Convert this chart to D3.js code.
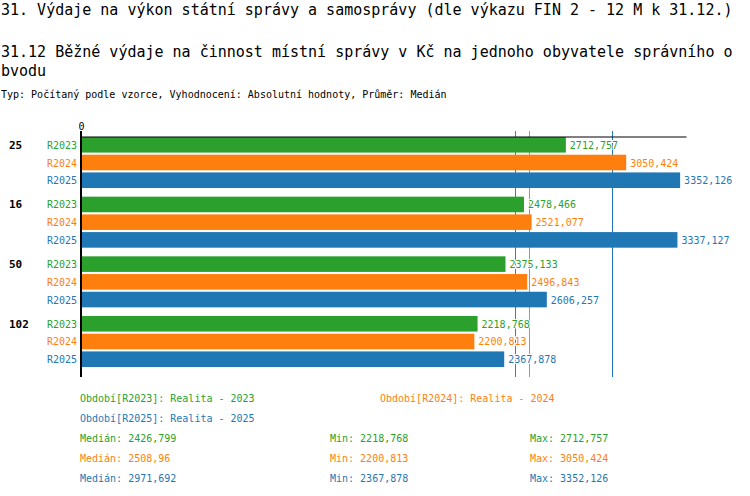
<!DOCTYPE html>
<html>
<head>
<meta charset="utf-8">
<script src="https://cdn.jsdelivr.net/npm/d3@7"></script>
<style>
  body { margin: 0; background: #fff; }
  svg { display: block; font-family: "DejaVu Sans Mono", "Liberation Mono", monospace; }
</style>
</head>
<body>
<div id="chart-area"></div>
<script>
// Chart data
var groups = ["25", "16", "50", "102"];
var series = ["R2023", "R2024", "R2025"];
var periodNames = ["Realita - 2023", "Realita - 2024", "Realita - 2025"];
var values2023 = [2712.757, 2478.466, 2375.133, 2218.768];
var values2024 = [3050.424, 2521.077, 2496.843, 2200.813];
var values2025 = [3352.126, 3337.127, 2606.257, 2367.878];
var medians = [2426.799, 2508.96, 2971.692];
var colors = ["#2ca02c", "#ff7f0e", "#1f77b4"];

var seriesValues = [values2023, values2024, values2025];

var width = 750, height = 496;

var svg = d3.select("#chart-area").append("svg")
    .attr("width", width)
    .attr("height", height);

// decimal comma
var fmt = function (v) { return String(v).replace(".", ","); };

/********************************************/
// Titles
/********************************************/
svg.append("text")
    .attr("x", 1).attr("y", 15)
    .style("font-size", "15px")
    .text("31. Výdaje na výkon státní správy a samosprávy (dle výkazu FIN 2 - 12 M k 31.12.)");

svg.append("text")
    .attr("x", 1).attr("y", 57)
    .style("font-size", "15px")
    .text("31.12 Běžné výdaje na činnost místní správy v Kč na jednoho obyvatele správního o");

svg.append("text")
    .attr("x", 1).attr("y", 76)
    .style("font-size", "15px")
    .text("bvodu");

svg.append("text")
    .attr("x", 1).attr("y", 98)
    .style("font-size", "10px")
    .text("Typ: Počítaný podle vzorce, Vyhodnocení: Absolutní hodnoty, Průměr: Medián");

/********************************************/
// Scales
/********************************************/
var x = d3.scaleLinear().domain([0, 3385]).range([81, 686]);

var y0 = d3.scaleBand()
    .domain(groups)
    .range([137, 367])
    .paddingInner(0.145);

var y1 = d3.scaleBand()
    .domain(series)
    .range([0, y0.bandwidth()])
    .paddingInner(0.12);

// flat rows for bars
var rows = [];
groups.forEach(function (g, gi) {
    series.forEach(function (s, si) {
        rows.push({ group: g, series: s, si: si, value: seriesValues[si][gi] });
    });
});

/********************************************/
// Median lines (behind everything)
/********************************************/
svg.append("g").selectAll("line")
    .data(medians)
    .enter().append("line")
    .attr("x1", function (d) { return Math.round(x(d)) + 0.5; })
    .attr("x2", function (d) { return Math.round(x(d)) + 0.5; })
    .attr("y1", 131)
    .attr("y2", 377)
    .attr("stroke", function (d, i) { return colors[i]; })
    .attr("stroke-width", 1);

/********************************************/
// Bars
/********************************************/
svg.append("g").selectAll("rect")
    .data(rows)
    .enter().append("rect")
    .attr("x", x(0))
    .attr("y", function (d) { return y0(d.group) + y1(d.series); })
    .attr("width", function (d) { return x(d.value) - x(0); })
    .attr("height", y1.bandwidth())
    .attr("fill", function (d) { return colors[d.si]; });

// Value labels
svg.append("g").selectAll("text")
    .data(rows)
    .enter().append("text")
    .attr("x", function (d) { return x(d.value) + 4; })
    .attr("y", function (d) { return y0(d.group) + y1(d.series) + y1.bandwidth() / 2 + 4; })
    .style("font-size", "10px")
    .attr("fill", function (d) { return colors[d.si]; })
    .attr("stroke", "#fff")
    .attr("stroke-width", 2)
    .style("paint-order", "stroke")
    .text(function (d) { return fmt(d.value); });

// Series labels
svg.append("g").selectAll("text")
    .data(rows)
    .enter().append("text")
    .attr("x", 77)
    .attr("y", function (d) { return y0(d.group) + y1(d.series) + y1.bandwidth() / 2 + 4; })
    .attr("text-anchor", "end")
    .style("font-size", "10px")
    .attr("fill", function (d) { return colors[d.si]; })
    .text(function (d) { return d.series; });

// Group labels
svg.append("g").selectAll("text")
    .data(groups)
    .enter().append("text")
    .attr("x", 9)
    .attr("y", function (d) { return y0(d) + y1.bandwidth() / 2 + 4; })
    .style("font-size", "11px")
    .style("font-weight", "bold")
    .text(function (d) { return d; });

/********************************************/
// Axes
/********************************************/
var xAxis = svg.append("g")
    .attr("transform", "translate(0,136.5)")
    .call(d3.axisTop(x).tickValues([0]).tickSize(5).tickSizeOuter(0).tickPadding(2));
xAxis.select(".domain").attr("stroke", "#000");
xAxis.selectAll("text")
    .style("font-family", "DejaVu Sans Mono, monospace")
    .style("font-size", "10px")
    .attr("fill", "#000");

svg.append("line")
    .attr("x1", x(0)).attr("x2", x(0))
    .attr("y1", 131).attr("y2", 377)
    .attr("stroke", "#000")
    .attr("stroke-width", 2);

/********************************************/
// Legend
/********************************************/
var legendPos = [[80, 402], [380, 402], [80, 422]];
svg.append("g").selectAll("text")
    .data(series)
    .enter().append("text")
    .attr("x", function (d, i) { return legendPos[i][0]; })
    .attr("y", function (d, i) { return legendPos[i][1]; })
    .style("font-size", "10px")
    .attr("fill", function (d, i) { return colors[i]; })
    .text(function (d, i) { return "Období[" + d + "]: " + periodNames[i]; });

var stats = svg.append("g").selectAll("g")
    .data(series)
    .enter().append("g")
    .attr("fill", function (d, i) { return colors[i]; })
    .style("font-size", "10px");

stats.append("text")
    .attr("x", 80)
    .attr("y", function (d, i) { return 442 + i * 20; })
    .text(function (d, i) { return "Medián: " + fmt(medians[i]); });

stats.append("text")
    .attr("x", 330)
    .attr("y", function (d, i) { return 442 + i * 20; })
    .text(function (d, i) { return "Min: " + fmt(d3.min(seriesValues[i])); });

stats.append("text")
    .attr("x", 530)
    .attr("y", function (d, i) { return 442 + i * 20; })
    .text(function (d, i) { return "Max: " + fmt(d3.max(seriesValues[i])); });
</script>
</body>
</html>
